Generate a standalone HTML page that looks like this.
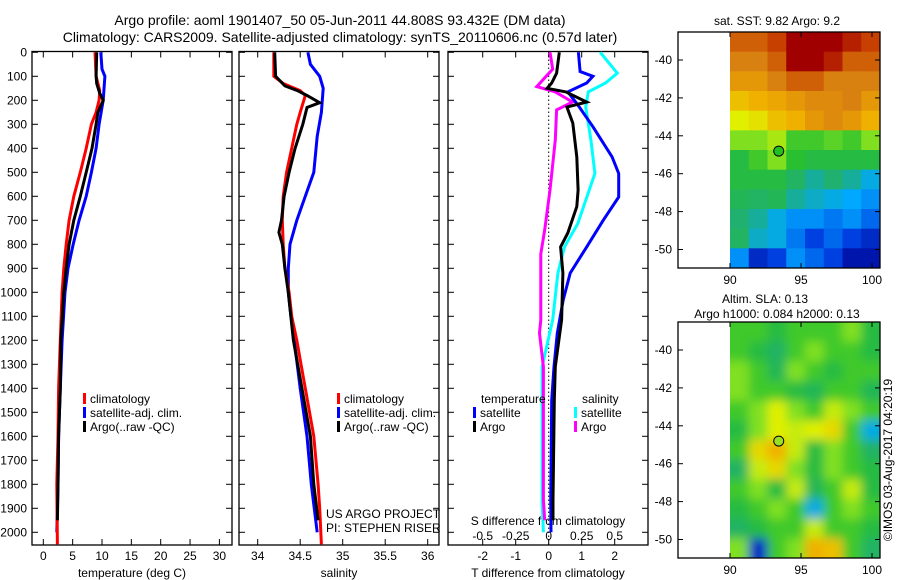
<!DOCTYPE html>
<html><head><meta charset="utf-8"><style>
body{margin:0;background:#fff}
svg{display:block;font-family:"Liberation Sans",sans-serif}
</style></head><body>
<svg id="c" width="900" height="580" viewBox="0 0 900 580">
<defs><filter id="bl" filterUnits="userSpaceOnUse" x="700" y="290" width="210" height="300"><feGaussianBlur stdDeviation="5"/></filter>
<clipPath id="clipTop"><rect x="730" y="32" width="150" height="236"/></clipPath>
<clipPath id="clipBot"><rect x="730" y="322" width="150" height="236"/></clipPath></defs>
<text x="340" y="25" font-size="14" text-anchor="middle">Argo profile: aoml 1901407_50 05-Jun-2011 44.808S 93.432E (DM data)</text>
<text x="340" y="42" font-size="14" text-anchor="middle">Climatology: CARS2009. Satellite-adjusted climatology: synTS_20110606.nc (0.57d later)</text>
</svg>
<script>
// ---------- data ----------
const depthTicks=[0,100,200,300,400,500,600,700,800,900,1000,1100,1200,1300,1400,1500,1600,1700,1800,1900,2000];
const tempTicks=[0,5,10,15,20,25,30];
const salTicks=[34,34.5,35,35.5,36];
const salTickLabels=["34","34.5","35","35.5","36"];
const tdiffTicks=[-2,-1,0,1,2];
const sdiffTicks=[-0.5,-0.25,0,0.25,0.5];
const sdiffLabels=["-0.5","-0.25","0","0.25","0.5"];

const tClimDepth=[0,100,160,200,250,300,400,500,600,700,800,900,1000,1200,1400,1600,1800,2050];
const tClim=[8.8,9.0,9.6,9.5,9.0,8.2,7.3,6.3,5.2,4.4,3.9,3.5,3.2,2.9,2.6,2.5,2.3,2.4];
const tArgoDepth=[0,100,130,170,200,250,300,400,500,600,700,800,900,1000,1200,1400,1600,1800,1950];
const tArgo=[9.1,9.0,9.1,9.6,10.2,9.3,9.0,8.3,7.3,6.3,5.2,4.4,3.9,3.5,3.0,2.9,2.6,2.5,2.4];
const tSatDepth=[0,70,100,200,300,400,500,600,700,800,900,1000,1200,1400,1600,1800,2000];
const tSat=[9.8,10.0,10.5,10.2,9.5,9.0,8.2,7.3,6.1,5.1,4.2,3.7,3.2,2.9,2.6,2.5,2.3];

const sClimDepth=[0,100,130,160,180,250,300,400,500,600,700,800,900,1000,1100,1200,1300,1400,1600,1800,1900,2050];
const sClim=[34.19,34.19,34.30,34.50,34.56,34.50,34.46,34.40,34.34,34.30,34.29,34.30,34.32,34.37,34.40,34.46,34.51,34.56,34.66,34.71,34.73,34.75];
const sArgoDepth=[0,100,140,160,180,210,230,300,400,500,600,700,750,800,900,1000,1200,1400,1600,1800,1950];
const sArgo=[34.20,34.21,34.32,34.47,34.58,34.73,34.58,34.53,34.44,34.37,34.31,34.28,34.25,34.29,34.32,34.36,34.42,34.52,34.62,34.66,34.71];
const sSatDepth=[0,50,100,150,250,350,500,600,700,800,900,1000,1100,1200,1400,1600,1800,2000];
const sSat=[34.59,34.62,34.73,34.77,34.75,34.70,34.66,34.56,34.46,34.38,34.36,34.36,34.39,34.43,34.50,34.58,34.63,34.70];

const dTArgoDepth=[0,87,128,150,165,207,228,295,436,574,643,753,811,920,1115,1310,1450,1865,1950];
const dTArgo=[0.32,0.24,0.09,-0.05,0.52,1.15,0.55,0.73,0.85,0.89,0.85,0.58,0.36,0.43,0.39,0.2,0.17,0.13,0.13];
const dTSatDepth=[0,80,100,128,165,215,310,436,505,603,700,811,920,1032,1170,1310,1450,1865,2000];
const dTSat=[0.9,0.95,1.34,1.15,0.58,0.86,1.34,1.92,2.12,2.12,1.65,1.15,0.65,0.44,0.26,0.16,0.09,0.06,0.07];
const dSSatDepth=[0,87,128,165,228,365,505,617,714,811,920,1115,1310,1500,1865,2000];
const dSSat=[0.39,0.52,0.43,0.30,0.28,0.32,0.35,0.28,0.22,0.12,0.07,0.03,-0.05,-0.05,-0.05,-0.04];
const dSArgoDepth=[0,70,100,143,165,207,240,365,574,740,840,1115,1170,1310,1500,1865,1950];
const dSArgo=[0.01,0.03,-0.02,-0.09,0.05,0.18,0.06,0.05,0.01,-0.03,-0.06,-0.06,-0.07,-0.04,-0.04,-0.04,-0.03];

const mapLatTicks=[-40,-42,-44,-46,-48,-50];
const mapLonTicks=[90,95,100];
const floatLon=93.432, floatLat=-44.808;
const sstGrid=[
[.85,.85,.9,1,1,1,.95,.9],
[.8,.8,.85,1,1,.95,.85,.85],
[.75,.75,.8,.85,.85,.8,.8,.8],
[.68,.7,.72,.75,.78,.78,.8,.75],
[.62,.64,.68,.7,.75,.78,.75,.7],
[.55,.55,.58,.5,.5,.52,.5,.55],
[.45,.5,.55,.48,.45,.45,.45,.45],
[.45,.45,.45,.4,.35,.38,.35,.3],
[.42,.4,.42,.35,.32,.3,.28,.25],
[.38,.35,.3,.25,.25,.22,.25,.2],
[.4,.32,.3,.22,.15,.2,.15,.1],
[.25,.1,.15,.25,.2,.15,.05,.05]];
const slaGrid=[
[.5,.5,.45,.5,.5,.5,.55,.45],
[.5,.45,.4,.5,.55,.5,.5,.45],
[.55,.5,.42,.55,.5,.45,.5,.5],
[.55,.5,.5,.45,.42,.5,.5,.42],
[.5,.55,.62,.55,.5,.6,.55,.5],
[.45,.55,.62,.6,.62,.65,.5,.3],
[.5,.65,.7,.6,.45,.55,.5,.4],
[.4,.6,.65,.55,.45,.55,.5,.45],
[.5,.55,.45,.6,.42,.5,.6,.45],
[.45,.5,.55,.5,.3,.5,.55,.5],
[.4,.45,.5,.5,.6,.5,.5,.45],
[.55,.1,.5,.55,.7,.68,.5,.4]];

// ---------- helpers ----------
const svg=document.getElementById('c');
const NS='http://www.w3.org/2000/svg';
function mk(tag,attrs,parent){const e=document.createElementNS(NS,tag);for(const k in attrs)e.setAttribute(k,attrs[k]);(parent||svg).appendChild(e);return e;}
function txt(x,y,s,size,anchor){const t=mk('text',{x:x,y:y,'font-size':size||12,'text-anchor':anchor||'middle'});t.textContent=s;return t;}
const yTop=52.3, yScale=0.24;
function yD(d){return yTop+d*yScale;}
function xT(t){return 43.3+t*5.87;}
function xS(s){return 257.7+(s-34)*85;}
function xDT(t){return 548.7+t*33;}
function xDS(s){return 548.7+s*132;}
const axTop=51.5, axBot=545;

function panel(x0,x1,name){
  const r=mk('rect',{x:x0,y:axTop,width:x1-x0,height:axBot-axTop,fill:'none',stroke:'#000','stroke-width':1.3});
  
  
  depthTicks.forEach(d=>{const y=yD(d);mk('line',{x1:x0,y1:y,x2:x0+6,y2:y,stroke:'#000'});mk('line',{x1:x1,y1:y,x2:x1-6,y2:y,stroke:'#000'});});
}
function line(xs,ds,xf,color,name){
  const pts=xs.map((v,i)=>xf(v).toFixed(1)+','+yD(ds[i]).toFixed(1)).join(' ');
  const p=mk('polyline',{points:pts,fill:'none',stroke:color,'stroke-width':3,'stroke-linejoin':'miter'});
  
  
}
function legend(x,y,items,name){
  const g=mk('g',{});
  
  
  items.forEach((it,i)=>{mk('rect',{x:x,y:y+i*14-10,width:3,height:11,fill:it[1]},g);const t=mk('text',{x:x+7,y:y+i*14,'font-size':12},g);t.textContent=it[0];});
}

// ---------- panel 1: temperature ----------
panel(32,232,'temperature-axes');
tempTicks.forEach(t=>{const x=xT(t);mk('line',{x1:x,y1:axBot,x2:x,y2:axBot-6,stroke:'#000'});mk('line',{x1:x,y1:axTop,x2:x,y2:axTop+6,stroke:'#000'});const l=txt(x,560,String(t));});
depthTicks.forEach(d=>{const l=txt(27,yD(d)+4,String(d),12,'end');});
const xl1=txt(132,577,'temperature (deg C)');
line(tSat,tSatDepth,xT,'#0000ff','temp-satellite-line');
line(tClim,tClimDepth,xT,'#ff0000','temp-climatology-line');
line(tArgo,tArgoDepth,xT,'#000','temp-argo-line');
legend(83,403,[['climatology','#f00'],['satellite-adj. clim.','#00f'],['Argo(..raw -QC)','#000']],'temperature-legend');

// ---------- panel 2: salinity ----------
panel(239,439,'salinity-axes');
salTicks.forEach((s,i)=>{const x=xS(s);mk('line',{x1:x,y1:axBot,x2:x,y2:axBot-6,stroke:'#000'});mk('line',{x1:x,y1:axTop,x2:x,y2:axTop+6,stroke:'#000'});const l=txt(x,560,salTickLabels[i]);});
const xl2=txt(339,577,'salinity');
line(sSat,sSatDepth,xS,'#0000ff','sal-satellite-line');
line(sClim,sClimDepth,xS,'#ff0000','sal-climatology-line');
line(sArgo,sArgoDepth,xS,'#000','sal-argo-line');
legend(337,403,[['climatology','#f00'],['satellite-adj. clim.','#00f'],['Argo(..raw -QC)','#000']],'salinity-legend');
const pr1=txt(326,518,'US ARGO PROJECT',12,'start');
const pr2=txt(326,532,'PI: STEPHEN RISER',12,'start');

// ---------- panel 3: differences ----------
panel(448,648,'difference-axes');
mk('line',{x1:xDT(0),y1:axTop,x2:xDT(0),y2:axBot,stroke:'#000','stroke-dasharray':'1.5,2.5'});
tdiffTicks.forEach(t=>{const x=xDT(t);mk('line',{x1:x,y1:axBot,x2:x,y2:axBot-6,stroke:'#000'});mk('line',{x1:x,y1:axTop,x2:x,y2:axTop+6,stroke:'#000'});const l=txt(x,560,String(t));});
sdiffTicks.forEach((s,i)=>{const l=txt(xDS(s),540,sdiffLabels[i]);});
const xl3=txt(548,577,'T difference from climatology');
const xl4=txt(548,525,'S difference from climatology');
line(dSSat,dSSatDepth,xDS,'#00ffff','sdiff-satellite-line');
line(dSArgo,dSArgoDepth,xDS,'#ff00ff','sdiff-argo-line');
line(dTSat,dTSatDepth,xDT,'#0000ff','tdiff-satellite-line');
line(dTArgo,dTArgoDepth,xDT,'#000','tdiff-argo-line');
const lt=txt(481,403,'temperature',12,'start');
const ls=txt(582,403,'salinity',12,'start');
legend(473,417,[['satellite','#00f'],['Argo','#000']],'tdiff-legend');
legend(574,417,[['satellite','#0ff'],['Argo','#f0f']],'sdiff-legend');

// ---------- maps ----------
const stops=[[0,[0,0,144]],[0.15,[0,64,224]],[0.28,[0,168,255]],[0.38,[32,176,112]],[0.48,[40,192,48]],[0.55,[128,224,32]],[0.62,[224,240,0]],[0.7,[240,176,0]],[0.8,[216,128,16]],[0.9,[200,64,0]],[1,[160,0,0]]];
function cmap(v){for(let i=1;i<stops.length;i++){if(v<=stops[i][0]){const a=stops[i-1],b=stops[i],f=(v-a[0])/(b[0]-a[0]);return 'rgb('+a[1].map((c,k)=>Math.round(c+(b[1][k]-c)*f)).join(',')+')';}}return 'rgb(160,0,0)';}
function map(y0,grid,name,blur,clip){
  const ax0=678,ax1=880,img0=730,h=236;
  const lonX=l=>730+(l-90)*14.2, latY=la=>y0+28+(-40-la)*18.95;
  const g=mk('g',{'clip-path':'url(#'+clip+')'});
  
  
  const inner=blur?mk('g',{filter:'url(#bl)'},g):g;
  const rows=grid.length, cols=grid[0].length, cw=(ax1-img0)/cols, rh=h/rows;
  const pad=blur?20:0;
  grid.forEach((row,r)=>row.forEach((v,c)=>{
    let x=img0+c*cw, y=y0+r*rh, w=cw+0.5, hh=rh+0.5;
    if(c===0){x-=pad;w+=pad;} if(c===cols-1){w+=pad;}
    if(r===0){y-=pad;hh+=pad;} if(r===rows-1){hh+=pad;}
    mk('rect',{x:x,y:y,width:w,height:hh,fill:cmap(v)},inner);}));
  const fr=mk('rect',{x:ax0,y:y0,width:ax1-ax0,height:h,fill:'none',stroke:'#000','stroke-width':1.3});
  
  
  mapLatTicks.forEach(la=>{const y=latY(la);mk('line',{x1:ax0,y1:y,x2:ax0+5,y2:y,stroke:'#000'});mk('line',{x1:ax1,y1:y,x2:ax1-5,y2:y,stroke:'#000'});const l=txt(672,y+4,String(la),12,'end');});
  mapLonTicks.forEach(lo=>{const x=lonX(lo);mk('line',{x1:x,y1:y0+h,x2:x,y2:y0+h-5,stroke:'#000'});mk('line',{x1:x,y1:y0,x2:x,y2:y0+5,stroke:'#000'});const l=txt(x,y0+h+16,String(lo));});
  const m=mk('circle',{cx:lonX(floatLon),cy:latY(floatLat),r:5,fill:blur?'#9be020':'#20c020',stroke:'#000','stroke-width':1});
  
  
}
map(32,sstGrid,'sst-map',false,'clipTop');
map(322,slaGrid,'sla-map',true,'clipBot');
const t1=txt(777,25,'sat. SST: 9.82  Argo: 9.2');
const t2=txt(765,303,'Altim. SLA: 0.13');
const t3=txt(777,318,'Argo h1000: 0.084 h2000: 0.13');
const cp=mk('text',{x:0,y:0,'font-size':12,'text-anchor':'middle',transform:'translate(892,460) rotate(-90)'});cp.textContent='©IMOS 03-Aug-2017 04:20:19';


</script>
</body></html>
